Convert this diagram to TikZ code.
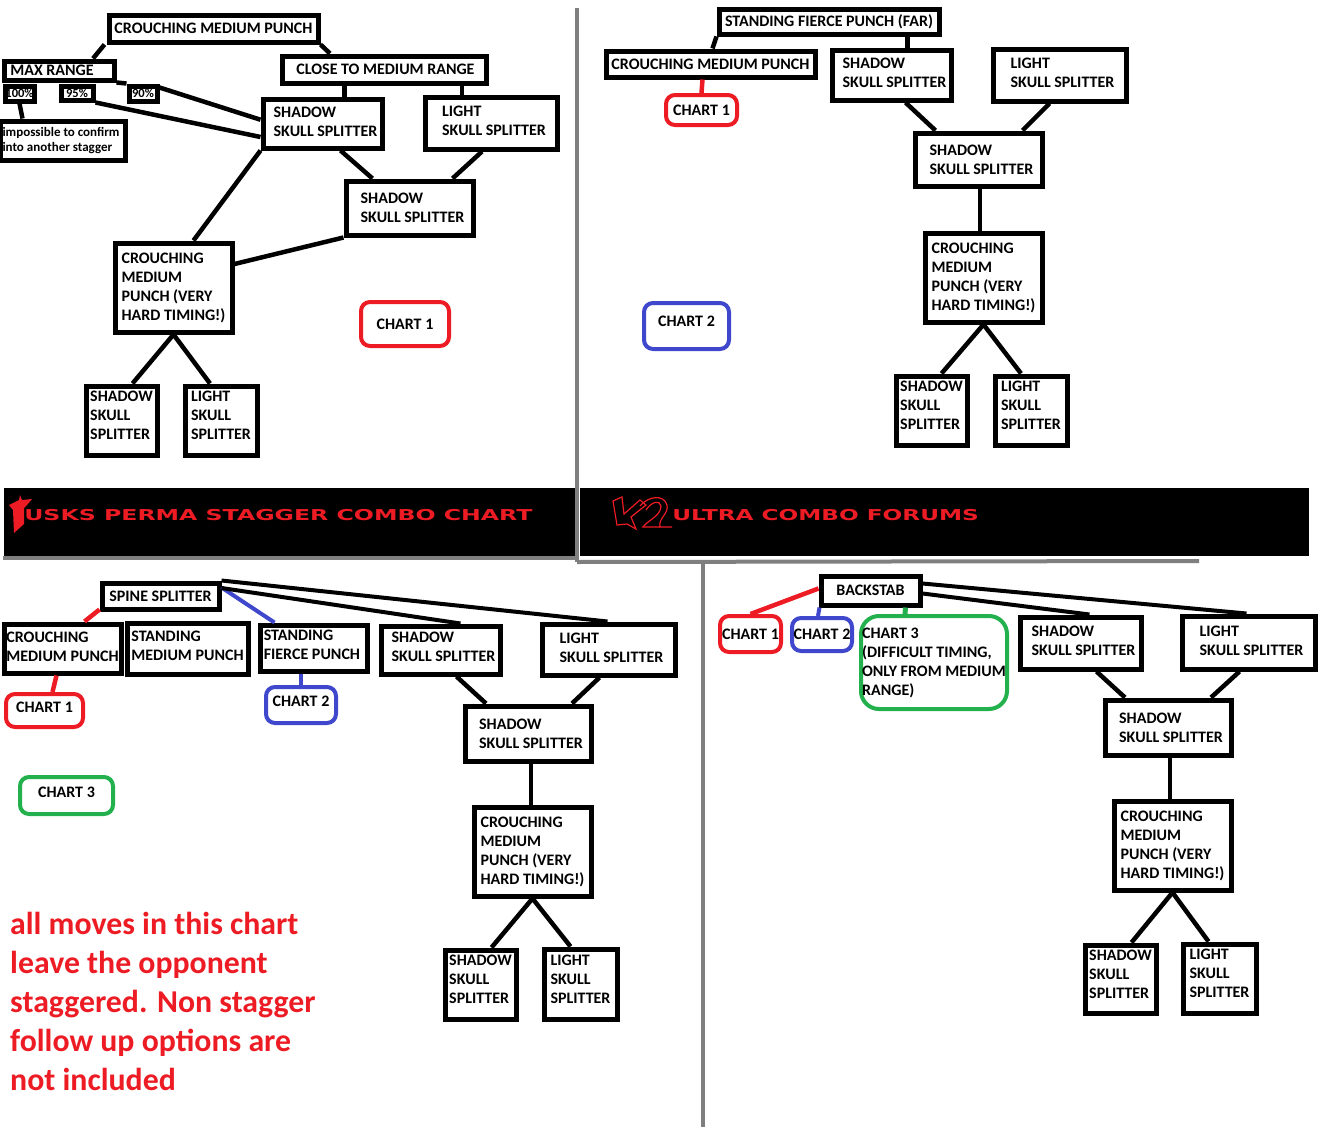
\documentclass[tikz,border=0pt]{standalone}
\usepackage{fontspec}
\setmainfont{Carlito}
\newfontfamily\bannerfont{DejaVu Sans}
\usetikzlibrary{calc}
\definecolor{TuskRed}{RGB}{237,28,36}
\definecolor{TuskBlue}{RGB}{63,72,204}
\definecolor{TuskGreen}{RGB}{34,177,76}
\definecolor{TuskGray}{RGB}{127,127,127}
\tikzset{
  tusk/box/.style={
    draw=black,
    line width=5pt,
    fill=white,
    align=left,
    text=black,
    inner sep=0pt,
    font=\fontsize{16}{19}\selectfont\bfseries
  },
  tusk/small/.style={
    tusk/box,
    font=\fontsize{13}{15}\selectfont\bfseries
  },
  tusk/tag/.style={
    tusk/box,
    font=\fontsize{12.5}{13}\selectfont\bfseries
  },
  tusk/chart/.style={
    tusk/box,
    rounded corners=9pt,
    line width=4pt
  },
  tusk/lift/.style={text depth=#1},
  tusk/line/.style={line width=4.5pt, draw=black},
  tusk/thin/.style={line width=4pt, draw=black},
  tusk/rule/.style={line width=4pt, draw=TuskGray},
  tusk/banner/.style={fill=black, inner sep=0pt},
  tusk/title/.style={text=TuskRed, inner sep=0pt, anchor=west, font=\bannerfont\fontsize{15}{15}\selectfont\bfseries, transform shape},
  tusk/note/.style={text=TuskRed, inner sep=0pt, align=left, anchor=north west, font=\fontsize{31.8}{39}\selectfont\bfseries}
}
% nodes are given by their corners in image pixels
\newcommand{\tbox}[6][tusk/box]{%
  \node[#1,minimum width=#4pt-#3pt-4pt,minimum height=#6pt-#5pt-4pt] (#2) at ({(#3+#4)/2},{(#5+#6)/2})}
\newcommand{\shadowtext}{\hspace*{6pt}SHADOW\\\hspace*{6pt}SKULL SPLITTER}
\newcommand{\lighttext}{\hspace*{6pt}LIGHT\\\hspace*{6pt}SKULL SPLITTER}
\newcommand{\crouchtext}{CROUCHING\\MEDIUM\\PUNCH (VERY\\HARD TIMING!)}
\begin{document}
\begin{tikzpicture}[x=1pt,y=-1pt]
  \useasboundingbox (0,0) rectangle (1326,1127);
  % banner
  \node[tusk/banner,minimum width=571pt,minimum height=68pt] (bannerL) at (289.5,522) {};
  \node[tusk/banner,minimum width=729pt,minimum height=68pt] (bannerR) at (944.5,522) {};
  \node[tusk/title,xscale=1.575] (tuskTitle) at (24,515) {USKS PERMA STAGGER COMBO CHART};
  \node[tusk/title,xscale=1.545] (forumTitle) at (672,515) {ULTRA COMBO FORUMS};
  \fill[TuskRed] (20,495) -- (22,500) -- (32,499) -- (27,505) -- (24,508) -- (24,524) -- (14,533) -- (13,510) -- (9,505) -- (19,500) -- cycle;
  \draw[TuskRed,line width=1.2pt] (613,501) -- (622,497) -- (624,514) -- (640,500) -- (646,505) -- (631,517) -- (636,529) -- (627,524) -- (617,525) -- cycle;
  \draw[TuskRed,line width=1.2pt] (640,506) .. controls (648,496) and (664,494) .. (667,505) .. controls (669,514) and (658,518) .. (660,527) -- (672,527);
  \draw[TuskRed,line width=1.2pt] (646,510) .. controls (652,501) and (660,500) .. (661,506) .. controls (661,516) and (648,520) .. (643,527) -- (660,527);
  % rules
  \coordinate (ruleA) at (577,8);
  \coordinate (ruleB) at (577,562);
  \coordinate (ruleC) at (1199,561);
  \coordinate (ruleD) at (703,561);
  \coordinate (ruleE) at (703,1127);
  \coordinate (ruleF) at (3,558);
  \coordinate (ruleG) at (575,558);
  \draw[tusk/rule] (ruleA) -- (ruleB);
  \draw[tusk/rule] (ruleB) -- (ruleC);
  \draw[tusk/rule] (ruleD) -- (ruleE);
  \draw[tusk/rule] (ruleF) -- (ruleG);

  % chart 1
  \tbox{a1}{107}{320}{13}{44} {CROUCHING MEDIUM PUNCH};
  \tbox{a2}{280}{488}{54}{85} {\hspace*{3pt}CLOSE TO MEDIUM RANGE};
  \tbox{a3}{2}{116}{59}{82} {MAX RANGE\hspace*{14pt}};
  \tbox[tusk/tag]{a4}{3}{36}{84}{103} {100\%};
  \tbox[tusk/tag]{a5}{59}{95}{84}{102} {95\%};
  \tbox[tusk/tag]{a6}{127}{159}{84}{103} {90\%};
  \tbox[tusk/small]{a7}{-2}{127}{119}{162} {impossible to confirm\hspace*{3pt}\\into another stagger};
  \tbox[tusk/box,tusk/lift=4pt]{a8}{261}{384}{97}{150} {\shadowtext};
  \tbox[tusk/box,tusk/lift=4pt]{a9}{423}{559}{95}{151} {\lighttext};
  \tbox{a10}{344}{475}{179}{237} {\shadowtext};
  \tbox{a11}{113}{234}{241}{334} {\crouchtext};
  \tbox[tusk/box,tusk/lift=10pt]{a12}{84}{159}{384}{457} {SHADOW\\SKULL\\SPLITTER};
  \tbox[tusk/box,tusk/lift=10pt]{a13}{183}{259}{384}{457} {LIGHT\\SKULL\\SPLITTER};
  \tbox[tusk/chart,draw=TuskRed]{a14}{359}{451}{300}{348} {CHART 1};
  \draw[tusk/line] ([xshift=-2pt]a1.south west) -- ([xshift=34pt]a3.north);
  \draw[tusk/line] (a1.south east) -- ([xshift=-54pt]a2.north);
  \draw[tusk/line] (a2.south -| a8.north) ++(22,0) -- ([xshift=22pt]a8.north);
  \draw[tusk/line] ([xshift=78pt]a2.south) -- ([xshift=-29pt]a9.north);
  \draw[tusk/line] ([xshift=18pt]a8.south) -- ([xshift=-37pt]a10.north);
  \draw[tusk/line] ([xshift=-9pt]a9.south) -- ([xshift=43pt]a10.north);
  \draw[tusk/line] (a8.south west) -- ([xshift=20pt]a11.north);
  \draw[tusk/line] (a10.south west) -- ($(a11.north east)!0.25!(a11.south east)$);
  \draw[tusk/line] (a11.south) -- ([xshift=11pt]a12.north);
  \draw[tusk/line] (a11.south) -- ([xshift=-11pt]a13.north);
  \draw[tusk/line] (a3.south east) -- (a6.north west);
  \draw[tusk/line] ([yshift=-4pt]a6.north east) -- ($(a8.north west)!0.43!(a8.south west)$);
  \draw[tusk/line] (a5.south east) -- ($(a8.north west)!0.75!(a8.south west)$);
  \draw[tusk/line] (a4.south) -- ([xshift=-40pt]a7.north);

  % chart 2
  \tbox{b1}{717}{941}{7}{36} {STANDING FIERCE PUNCH (FAR)};
  \tbox{b2}{604}{817}{49}{79} {CROUCHING MEDIUM PUNCH};
  \tbox[tusk/chart,draw=TuskRed]{b3}{664}{739}{93}{127} {CHART 1};
  \tbox[tusk/box,tusk/lift=4pt]{b4}{830}{953}{48}{102} {\shadowtext};
  \tbox[tusk/box,tusk/lift=4pt]{b5}{991}{1128}{47}{103} {\lighttext};
  \tbox{b6}{913}{1044}{131}{188} {\shadowtext};
  \tbox{b7}{923}{1044}{231}{324} {\crouchtext};
  \tbox[tusk/box,tusk/lift=10pt]{b8}{894}{969}{374}{447} {SHADOW\\SKULL\\SPLITTER};
  \tbox[tusk/box,tusk/lift=10pt]{b9}{993}{1069}{374}{447} {LIGHT\\SKULL\\SPLITTER};
  \tbox[tusk/chart,draw=TuskBlue,tusk/lift=10pt]{b10}{642}{731}{301}{351} {CHART 2};
  \draw[tusk/line] (b1.south west) -- ([xshift=2pt]b2.north);
  \draw[tusk/line] (b1.south -| b4.north) ++(16,0) -- ([xshift=16pt]b4.north);
  \draw[line width=4.5pt,draw=TuskRed] ([xshift=-8pt]b2.south) -- (b3.north);
  \draw[tusk/line] ([xshift=14pt]b4.south) -- ([xshift=-43pt]b6.north);
  \draw[tusk/line] ([xshift=-10pt]b5.south) -- ([xshift=44pt]b6.north);
  \draw[tusk/line] ([xshift=1.5pt]b6.south) -- ([xshift=-3.5pt]b7.north);
  \draw[tusk/line] (b7.south) -- ([xshift=10pt]b8.north);
  \draw[tusk/line] (b7.south) -- ([xshift=-10pt]b9.north);

  % chart 3
  \tbox{c1}{100}{221}{581}{611} {SPINE SPLITTER};
  \tbox[tusk/box,tusk/lift=4pt]{c2}{2}{123}{622}{675} {CROUCHING\hspace*{30pt}\\MEDIUM PUNCH};
  \tbox[tusk/box,tusk/lift=6pt]{c3}{125}{250}{621}{676} {STANDING\hspace*{30pt}\\MEDIUM PUNCH};
  \tbox[tusk/box,tusk/lift=6pt]{c4}{258}{369}{623}{673} {STANDING\hspace*{30pt}\\FIERCE PUNCH};
  \tbox[tusk/box,tusk/lift=6pt]{c5}{379}{502}{624}{676} {\shadowtext};
  \tbox[tusk/box,tusk/lift=4pt]{c6}{540}{677}{622}{677} {\lighttext};
  \tbox{c7}{463}{593}{704}{763} {\shadowtext};
  \tbox{c8}{472}{593}{805}{898} {\crouchtext};
  \tbox[tusk/box,tusk/lift=10pt]{c9}{443}{518}{948}{1021} {SHADOW\\SKULL\\SPLITTER};
  \tbox[tusk/box,tusk/lift=10pt]{c10}{542}{619}{947}{1021} {LIGHT\\SKULL\\SPLITTER};
  \tbox[tusk/chart,draw=TuskRed,tusk/lift=7pt]{c11}{4}{85}{692}{729} {CHART 1};
  \tbox[tusk/chart,draw=TuskBlue,tusk/lift=7pt]{c12}{264}{338}{685}{725} {CHART 2};
  \tbox[tusk/chart,draw=TuskGreen,tusk/lift=7pt]{c13}{18}{115}{775}{816} {CHART 3};
  \draw[line width=4.5pt,draw=TuskRed] ([yshift=2pt]c1.south west) -- ([xshift=22pt]c2.north);
  \draw[line width=4pt,draw=TuskBlue] ([yshift=-7pt]c1.north east) -- ([xshift=17pt]c4.north west);
  \draw[tusk/thin] (c1.east) ++(0,-8) -- ([xshift=20pt]c5.north);
  \draw[tusk/thin] (c1.north east) -- ([xshift=-1pt]c6.north);
  \draw[line width=4.5pt,draw=TuskRed] ([xshift=-6pt]c2.south) -- ([xshift=8pt]c11.north);
  \draw[line width=4pt,draw=TuskBlue] (c12.north) -- (c12.north |- c4.south);
  \draw[tusk/line] ([xshift=16pt]c5.south) -- ([xshift=-42pt]c7.north);
  \draw[tusk/line] ([xshift=-9pt]c6.south) -- ([xshift=44pt]c7.north);
  \draw[tusk/line] ([xshift=3pt]c7.south) -- ([xshift=-1.5pt]c8.north);
  \draw[tusk/line] (c8.south) -- ([xshift=11pt]c9.north);
  \draw[tusk/line] (c8.south) -- ([xshift=-10pt]c10.north);
  \node[tusk/note] (note) at (10,912) {all moves in this chart\\leave the opponent\\staggered. Non stagger\\follow up options are\\not included};

  % chart 4
  \tbox{d1}{819}{922}{574}{607} {BACKSTAB};
  \tbox[tusk/chart,draw=TuskRed]{d2}{718}{783}{614}{654} {CHART 1};
  \tbox[tusk/chart,draw=TuskBlue]{d3}{790}{854}{616}{653} {CHART 2};
  \tbox[tusk/chart,draw=TuskGreen,rounded corners=18pt]{d4}{859}{1009}{614}{711} {CHART 3\\(DIFFICULT TIMING,\\ONLY FROM MEDIUM\\RANGE)};
  \tbox[tusk/box,tusk/lift=4pt]{d5}{1018}{1143}{615}{671} {\shadowtext};
  \tbox[tusk/box,tusk/lift=4pt]{d6}{1180}{1317}{614}{671} {\lighttext};
  \tbox{d7}{1103}{1233}{698}{757} {\shadowtext};
  \tbox{d8}{1112}{1233}{799}{892} {\crouchtext};
  \tbox[tusk/box,tusk/lift=10pt]{d9}{1083}{1158}{943}{1015} {SHADOW\\SKULL\\SPLITTER};
  \tbox[tusk/box,tusk/lift=10pt]{d10}{1181}{1258}{942}{1015} {LIGHT\\SKULL\\SPLITTER};
  \draw[line width=4.5pt,draw=TuskRed] (d1.west) ++(0,-2) -- (d2.north);
  \draw[line width=4pt,draw=TuskBlue] ([xshift=-51pt]d1.south) -- ([xshift=-4pt]d3.north);
  \draw[line width=5pt,draw=TuskGreen] ([xshift=35pt]d1.south) -- ([xshift=-29pt]d4.north);
  \draw[tusk/thin] (d1.east) ++(0,3) -- ([xshift=9pt]d5.north);
  \draw[tusk/thin] (d1.north east) ++(0,10) -- ([xshift=-2pt]d6.north);
  \draw[tusk/line] ([xshift=16pt]d5.south) -- ([xshift=-43pt]d7.north);
  \draw[tusk/line] ([xshift=-9pt]d6.south) -- ([xshift=43pt]d7.north);
  \draw[tusk/line] ([xshift=2pt]d7.south) -- ([xshift=-2.5pt]d8.north);
  \draw[tusk/line] (d8.south) -- ([xshift=11pt]d9.north);
  \draw[tusk/line] (d8.south) -- ([xshift=-11pt]d10.north);
\end{tikzpicture}
\end{document}
